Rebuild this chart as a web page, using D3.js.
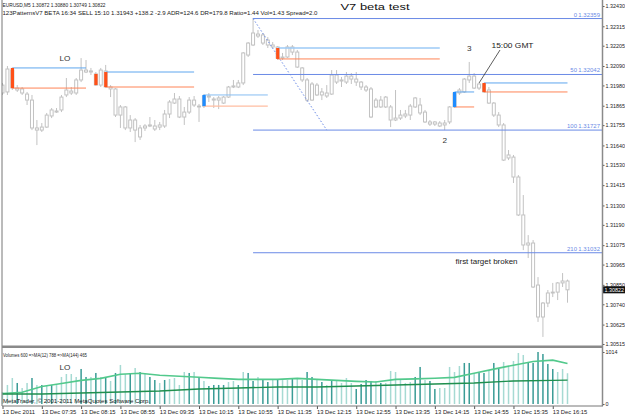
<!DOCTYPE html>
<html>
<head>
<meta charset="utf-8">
<script src="https://cdn.jsdelivr.net/npm/d3@7"></script>
<style>
  body { margin: 0; background: #fff; }
  svg { display: block; font-family: "Liberation Sans", Arial, sans-serif; }
</style>
</head>
<body>
<div id="chart"></div>
<script>
// EURUSD M5, 13 Dec 2011, 06:55 .. 16:30 (116 bars)
const opens = [
  1.31937, 1.31943, 1.32067, 1.31965, 1.31960, 1.31931, 1.31897, 1.31739, 1.31727, 1.31744,
  1.31807, 1.31835, 1.31841, 1.31926, 1.31948, 1.31937, 1.32011, 1.32067, 1.32056, 1.32045,
  1.31982, 1.32062, 1.31971, 1.31960, 1.31812, 1.31858, 1.31739, 1.31784, 1.31739, 1.31739,
  1.31750, 1.31750, 1.31744, 1.31750, 1.31818, 1.31880, 1.31903, 1.31801, 1.31829, 1.31897,
  1.31863, 1.31863, 1.31920, 1.31903, 1.31897, 1.31880, 1.31914, 1.31971, 1.31971, 1.31994,
  1.32152, 1.32209, 1.32271, 1.32266, 1.32237, 1.32209, 1.32198, 1.32135, 1.32141, 1.32198,
  1.32169, 1.32079, 1.32011, 1.31897, 1.31982, 1.31926, 1.31937, 1.31931, 1.32039, 1.32005,
  1.31999, 1.32033, 1.32016, 1.31999, 1.31971, 1.31960, 1.31858, 1.31897, 1.31858, 1.31858,
  1.31784, 1.31795, 1.31807, 1.31812, 1.31858, 1.31869, 1.31829, 1.31773, 1.31761, 1.31767,
  1.31756, 1.31773, 1.31858, 1.31937, 1.31943, 1.32011, 1.32033, 1.31965, 1.31988, 1.31954,
  1.31880, 1.31812, 1.31756, 1.31569, 1.31574, 1.31461, 1.31246, 1.31076, 1.31087, 1.30849,
  1.30668, 1.30747, 1.30804, 1.30809, 1.30861, 1.30872
];
const highs = [
  1.31994, 1.32090, 1.32079, 1.31982, 1.31971, 1.31943, 1.31926, 1.31784, 1.31767, 1.31824,
  1.31852, 1.31852, 1.31926, 1.32022, 1.31971, 1.32022, 1.32135, 1.32124, 1.32079, 1.32056,
  1.32079, 1.32096, 1.31982, 1.31965, 1.31869, 1.31863, 1.31812, 1.31795, 1.31756, 1.31761,
  1.31801, 1.31784, 1.31773, 1.31841, 1.31897, 1.31937, 1.31920, 1.31858, 1.31914, 1.31920,
  1.31875, 1.31931, 1.31937, 1.31914, 1.31920, 1.31920, 1.31977, 1.32011, 1.32011, 1.32169,
  1.32226, 1.32359, 1.32294, 1.32277, 1.32254, 1.32226, 1.32203, 1.32164, 1.32209, 1.32209,
  1.32181, 1.32084, 1.32022, 1.31999, 1.31994, 1.31965, 1.31982, 1.32067, 1.32067, 1.32028,
  1.32056, 1.32050, 1.32056, 1.32005, 1.31982, 1.31971, 1.31909, 1.31920, 1.31920, 1.31869,
  1.31954, 1.31841, 1.31841, 1.31875, 1.31914, 1.31909, 1.31841, 1.31784, 1.31778, 1.31778,
  1.31784, 1.31863, 1.31943, 1.31965, 1.32022, 1.32113, 1.32050, 1.31994, 1.31994, 1.31971,
  1.31886, 1.31829, 1.31767, 1.31614, 1.31586, 1.31472, 1.31359, 1.31132, 1.31104, 1.30894,
  1.30753, 1.30821, 1.30861, 1.30866, 1.30917, 1.30880
];
const lows = [
  1.31926, 1.31926, 1.31954, 1.31943, 1.31926, 1.31869, 1.31727, 1.31642, 1.31716, 1.31739,
  1.31795, 1.31824, 1.31829, 1.31914, 1.31926, 1.31926, 1.31999, 1.32050, 1.32039, 1.31977,
  1.31971, 1.31965, 1.31914, 1.31801, 1.31739, 1.31727, 1.31716, 1.31659, 1.31671, 1.31722,
  1.31744, 1.31722, 1.31727, 1.31739, 1.31795, 1.31875, 1.31795, 1.31756, 1.31818, 1.31858,
  1.31773, 1.31852, 1.31886, 1.31852, 1.31846, 1.31875, 1.31909, 1.31965, 1.31965, 1.31982,
  1.32141, 1.32203, 1.32249, 1.32209, 1.32192, 1.32192, 1.32124, 1.32124, 1.32135, 1.32152,
  1.32079, 1.31999, 1.31886, 1.31892, 1.31920, 1.31897, 1.31909, 1.31926, 1.31988, 1.31971,
  1.31988, 1.31988, 1.31977, 1.31954, 1.31943, 1.31795, 1.31852, 1.31852, 1.31852, 1.31744,
  1.31778, 1.31784, 1.31795, 1.31784, 1.31852, 1.31812, 1.31767, 1.31750, 1.31750, 1.31744,
  1.31727, 1.31761, 1.31852, 1.31926, 1.31937, 1.31994, 1.31960, 1.31954, 1.31937, 1.31875,
  1.31801, 1.31744, 1.31552, 1.31557, 1.31427, 1.31240, 1.31047, 1.31002, 1.30832, 1.30640,
  1.30555, 1.30724, 1.30781, 1.30764, 1.30838, 1.30749
];
const closes = [
  1.31982, 1.32073, 1.31965, 1.31954, 1.31937, 1.31897, 1.31739, 1.31727, 1.31744, 1.31812,
  1.31841, 1.31829, 1.31914, 1.31954, 1.31937, 1.32011, 1.32067, 1.32056, 1.32062, 1.31982,
  1.32067, 1.31971, 1.31960, 1.31812, 1.31858, 1.31739, 1.31784, 1.31727, 1.31688, 1.31750,
  1.31756, 1.31733, 1.31756, 1.31818, 1.31886, 1.31903, 1.31801, 1.31829, 1.31897, 1.31869,
  1.31858, 1.31920, 1.31914, 1.31897, 1.31909, 1.31914, 1.31971, 1.31977, 1.31994, 1.32164,
  1.32220, 1.32277, 1.32260, 1.32220, 1.32209, 1.32198, 1.32135, 1.32141, 1.32198, 1.32169,
  1.32084, 1.32011, 1.31897, 1.31988, 1.31926, 1.31943, 1.31920, 1.32039, 1.31999, 1.32011,
  1.32033, 1.32016, 1.31999, 1.31971, 1.31954, 1.31801, 1.31897, 1.31858, 1.31914, 1.31784,
  1.31795, 1.31812, 1.31818, 1.31863, 1.31909, 1.31824, 1.31773, 1.31761, 1.31773, 1.31750,
  1.31767, 1.31858, 1.31937, 1.31954, 1.32016, 1.32033, 1.31965, 1.31988, 1.31943, 1.31880,
  1.31812, 1.31756, 1.31557, 1.31586, 1.31461, 1.31246, 1.31076, 1.31087, 1.30838, 1.30668,
  1.30747, 1.30804, 1.30809, 1.30861, 1.30872, 1.30822
];
const volumes = [
  234, 371, 507, 410, 312, 410, 507, 371, 371, 371,
  371, 371, 527, 585, 585, 527, 683, 527, 527, 605,
  527, 527, 449, 605, 761, 585, 605, 702, 624, 585,
  527, 468, 410, 468, 488, 507, 371, 624, 605, 624,
  527, 449, 351, 371, 371, 371, 429, 449, 371, 624,
  605, 449, 527, 468, 429, 488, 488, 488, 468, 488,
  488, 468, 624, 527, 488, 429, 371, 468, 449, 410,
  507, 410, 293, 390, 468, 449, 449, 410, 410, 644,
  624, 468, 410, 429, 527, 722, 468, 449, 293, 312,
  312, 722, 624, 741, 800, 800, 605, 605, 605, 663,
  800, 683, 819, 741, 839, 995, 956, 800, 800, 1014,
  975, 780, 683, 624, 683, 600
];
// d = dark teal bar, l = light teal bar
const volShade = ("llldlldldl" + "dlllllddld" + "ldldlldldl" + "ddldlllldl" + "dlddddlldl" +
                  "ddlddldlld" + "llddldldll" + "llddddldll" + "llllddlddl" + "llllddlddl" +
                  "ddlllllddd" + "dddlll").split('');
const ma12Idx  = [0, 4, 8, 12, 16, 20, 24, 28, 32, 36, 40, 44, 48, 52, 56, 60, 64, 68, 72, 76, 80, 84, 88, 92, 96, 100, 104, 108, 112, 115];
const ma12Vals = [205, 230, 343, 400, 461, 500, 580, 600, 560, 540, 521, 500, 481, 481, 481, 500, 481, 460, 442, 430, 481, 490, 501, 520, 600, 680, 757, 830, 856, 788];
const ma144Idx  = [0, 8, 16, 24, 32, 40, 48, 56, 64, 72, 80, 88, 96, 104, 112, 115];
const ma144Vals = [195, 195, 215, 234, 254, 293, 312, 332, 332, 351, 371, 390, 410, 449, 460, 465];

const priceTicks = [1.32430, 1.32315, 1.32205, 1.32090, 1.31980, 1.31865, 1.31755, 1.31640, 1.31530,
                    1.31415, 1.31300, 1.31190, 1.31075, 1.30965, 1.30850, 1.30740, 1.30625, 1.30515];
const timeIdx = [0, 8, 16, 24, 32, 40, 48, 56, 64, 72, 80, 88, 96, 104, 112];
const timeLabels = ['13 Dec 2011', '13 Dec 07:35', '13 Dec 08:15', '13 Dec 08:55', '13 Dec 09:35',
                    '13 Dec 10:15', '13 Dec 10:55', '13 Dec 11:35', '13 Dec 12:15', '13 Dec 12:55',
                    '13 Dec 13:35', '13 Dec 14:15', '13 Dec 14:55', '13 Dec 15:35', '13 Dec 16:15'];

// fibo from the 11:10 high down to the 100 level
const fibLevels = ['0', '50', '100', '210'];
const fibPrices = [1.32359, 1.32042, 1.31727, 1.31032];
const fibStart = 51, fibDiagEnd = 66;

// pattern markers: bar, upper price, lower price, last bar of the lines, kind
const patBar  = [2, 19, 21, 41, 56, 92, 98];
const patHi   = [1.32079, 1.32045, 1.32056, 1.31926, 1.32192, 1.31943, 1.31994];
const patLo   = [1.31965, 1.31982, 1.31971, 1.31863, 1.32130, 1.31858, 1.31943];
const patEnd  = [17, null, 39, 54, 89, 96, 115];
const patKind = ['sell', 'sell', 'sell', 'buy', 'sell', 'buy', 'sell'];

const W = 625, H = 416;
const svg = d3.select('#chart').append('svg')
    .attr('width', W)
    .attr('height', H)
    .style('background-color', 'white');

const x = d3.scaleLinear().domain([0, 115]).range([2.5, 567.5]);
const y = d3.scaleLinear().domain([1.30515, 1.32430]).range([344, 6]);
const yv = d3.scaleLinear().domain([0, 1014]).range([404, 352]);

svg.append('clipPath').attr('id', 'mainClip')
  .append('rect').attr('x', 2).attr('y', 0).attr('width', 600).attr('height', 345);

// squashed text, the screenshot is compressed vertically
function label(g, str, px, py, size, opts) {
  opts = opts || {};
  const t = g.append('text')
    .attr('transform', 'translate(' + px + ',' + py + ') scale(1,' + (opts.sy || 0.78) + ')')
    .attr('font-size', size)
    .attr('fill', opts.fill || '#222')
    .attr('text-anchor', opts.anchor || 'start')
    .text(str);
  if (opts.len) t.attr('textLength', opts.len).attr('lengthAdjust', 'spacingAndGlyphs');
  return t;
}

const main = svg.append('g').attr('clip-path', 'url(#mainClip)');
const bars = d3.range(opens.length);

// candles
main.selectAll('line.wick').data(bars).enter().append('line')
  .attr('class', 'wick')
  .attr('x1', i => x(i)).attr('x2', i => x(i))
  .attr('y1', i => y(highs[i])).attr('y2', i => y(lows[i]))
  .attr('stroke', '#c2c2c2').attr('stroke-width', 1);

main.selectAll('rect.body').data(bars).enter().append('rect')
  .attr('class', 'body')
  .attr('x', i => x(i) - 1.5)
  .attr('width', 3)
  .attr('y', i => y(Math.max(opens[i], closes[i])))
  .attr('height', i => Math.max(0.8, Math.abs(y(opens[i]) - y(closes[i]))))
  .attr('fill', 'white')
  .attr('stroke', '#c2c2c2').attr('stroke-width', 1);

// fibo
const fibColor = '#6a8ae6';
fibPrices.forEach((p, k) => {
  main.append('line')
    .attr('x1', x(fibStart)).attr('x2', 602)
    .attr('y1', y(p)).attr('y2', y(p))
    .attr('stroke', fibColor).attr('stroke-width', 1);
  label(svg, fibLevels[k], 577, y(p) - 2, 6, { anchor: 'end', fill: fibColor, sy: 0.8 });
  label(svg, p.toFixed(5), 600, y(p) - 2, 6, { anchor: 'end', fill: fibColor, sy: 0.8 });
});
main.append('line')
  .attr('x1', x(fibStart)).attr('y1', y(fibPrices[0]))
  .attr('x2', x(fibDiagEnd)).attr('y2', y(fibPrices[2]))
  .attr('stroke', fibColor).attr('stroke-width', 1).attr('stroke-dasharray', '1.5,2');

// pattern lines and markers
patBar.forEach((b, k) => {
  const faded = (b === 41);
  if (patEnd[k] !== null) {
    main.append('line')
      .attr('x1', x(b)).attr('x2', x(patEnd[k]))
      .attr('y1', y(patHi[k])).attr('y2', y(patHi[k]))
      .attr('stroke', faded ? '#86bdf2' : (b === 56 ? '#9ccaf6' : '#5ea6ee'))
      .attr('stroke-width', b === 56 ? 1.6 : 1);
    main.append('line')
      .attr('x1', x(b)).attr('x2', x(patEnd[k]))
      .attr('y1', y(patLo[k])).attr('y2', y(patLo[k]))
      .attr('stroke', faded ? '#ffbea2' : '#ff8456')
      .attr('stroke-width', faded ? 1.4 : 1);
  }
  main.append('rect')
    .attr('x', x(b) - 1.5).attr('width', 3.2)
    .attr('y', y(patHi[k]))
    .attr('height', y(patLo[k]) - y(patHi[k]))
    .attr('fill', patKind[k] === 'buy' ? '#1e8cff' : '#ff5018');
});

// annotations
label(svg, 'LO', 65, 61, 8.2, { anchor: 'middle', fill: '#333' });
label(svg, '3', x(95), 51, 8.2, { anchor: 'middle', fill: '#333' });
label(svg, '2', x(90), 143, 8.2, { anchor: 'middle', fill: '#333' });
label(svg, '15:00 GMT', 491.5, 47.5, 8.4, { fill: '#222', len: 42 });
svg.append('line')
  .attr('x1', x(97)).attr('y1', y(highs[97]))
  .attr('x2', 500).attr('y2', 50)
  .attr('stroke', '#333').attr('stroke-width', 0.8);
label(svg, 'first target broken', 455.5, 263.5, 8.2, { fill: '#222', len: 62 });
label(svg, 'V7 beta test', 340.5, 9.8, 13, { fill: '#111', len: 69, sy: 0.74 });

// header
label(svg, 'EURUSD,M5  1.30872 1.30880 1.30749 1.30822', 2.5, 7.3, 6, { len: 103, sy: 0.8 });
label(svg, '123PatternsV7 BETA  16:34  SELL 15:10 1.31943 +138.2 -2.9  ADR=124.6  DR=179.8  Ratio=1.44  Vol=1.43  Spread=2.0',
      2.5, 15, 6, { len: 315, sy: 0.8 });

// price axis
const pAxis = svg.append('g').attr('transform', 'translate(602,0)')
  .call(d3.axisRight(y).tickValues(priceTicks).tickFormat(d => d.toFixed(5)).tickSize(2.5).tickPadding(1));
pAxis.select('.domain').remove();
pAxis.selectAll('line').attr('stroke', '#555');
pAxis.selectAll('text').attr('font-size', 5.4).attr('font-family', '"Liberation Sans", Arial, sans-serif').attr('fill', '#222');

// current price box
const cur = closes[closes.length - 1];
svg.append('rect').attr('x', 603).attr('y', y(cur) - 3.5).attr('width', 22).attr('height', 7).attr('fill', '#111');
svg.append('text').attr('x', 604.5).attr('y', y(cur) + 2).attr('font-size', 5.4).attr('fill', 'white').text(cur.toFixed(5));

// volume panel
const vol = svg.append('g');
vol.selectAll('rect.vbar').data(bars).enter().append('rect')
  .attr('class', 'vbar')
  .attr('x', i => x(i) - 0.75)
  .attr('width', 1.5)
  .attr('y', i => yv(volumes[i]))
  .attr('height', i => yv(0) - yv(volumes[i]))
  .attr('fill', i => volShade[i] === 'd' ? '#3a9c96' : '#a6dad3');

const maLine = d3.line().x(d => x(d[0])).y(d => yv(d[1]));
vol.append('path')
  .attr('d', maLine(ma12Idx.map((d, k) => [d, ma12Vals[k]])))
  .attr('fill', 'none').attr('stroke', '#52c98c').attr('stroke-width', 1.6);
vol.append('path')
  .attr('d', maLine(ma144Idx.map((d, k) => [d, ma144Vals[k]])))
  .attr('fill', 'none').attr('stroke', '#1f8f4e').attr('stroke-width', 1.4);

label(svg, 'Volumes 600  =>MA(12) 788  =>MA(144) 465', 3, 356.8, 6, { len: 84, sy: 0.8 });
label(svg, 'LO', 65, 369.5, 8.2, { anchor: 'middle', fill: '#333' });
label(svg, 'MetaTrader, \u00a9 2001-2011 MetaQuotes Software Corp.', 3, 403, 6, { len: 147, sy: 0.8 });

const vAxis = svg.append('g').attr('transform', 'translate(602,0)')
  .call(d3.axisRight(yv).tickValues([0, 1014]).tickFormat(d3.format('d')).tickSize(2.5).tickPadding(1));
vAxis.select('.domain').remove();
vAxis.selectAll('line').attr('stroke', '#555');
vAxis.selectAll('text').attr('font-size', 5.4).attr('font-family', '"Liberation Sans", Arial, sans-serif').attr('fill', '#222');

// time axis
const tAxis = svg.append('g').attr('transform', 'translate(0,406)')
  .call(d3.axisBottom(x).tickValues(timeIdx).tickFormat((d, k) => timeLabels[k]).tickSize(3).tickPadding(1));
tAxis.select('.domain').remove();
tAxis.selectAll('line').attr('stroke', '#555');
tAxis.selectAll('text').attr('font-size', 5.8).attr('font-family', '"Liberation Sans", Arial, sans-serif')
  .attr('fill', '#222').attr('text-anchor', 'start').attr('dx', -0.5);

// frame
svg.append('line').attr('x1', 2).attr('x2', 2).attr('y1', 0).attr('y2', 406).attr('stroke', '#777').attr('stroke-width', 1);
svg.append('line').attr('x1', 602.5).attr('x2', 602.5).attr('y1', 0).attr('y2', 406).attr('stroke', '#8a8a8a').attr('stroke-width', 1.5);
svg.append('rect').attr('x', 2).attr('y', 345.5).attr('width', 601).attr('height', 2.5).attr('fill', '#8a8a8a');
svg.append('line').attr('x1', 2).attr('x2', 603).attr('y1', 406).attr('y2', 406).attr('stroke', '#777').attr('stroke-width', 1);
</script>
</body>
</html>
